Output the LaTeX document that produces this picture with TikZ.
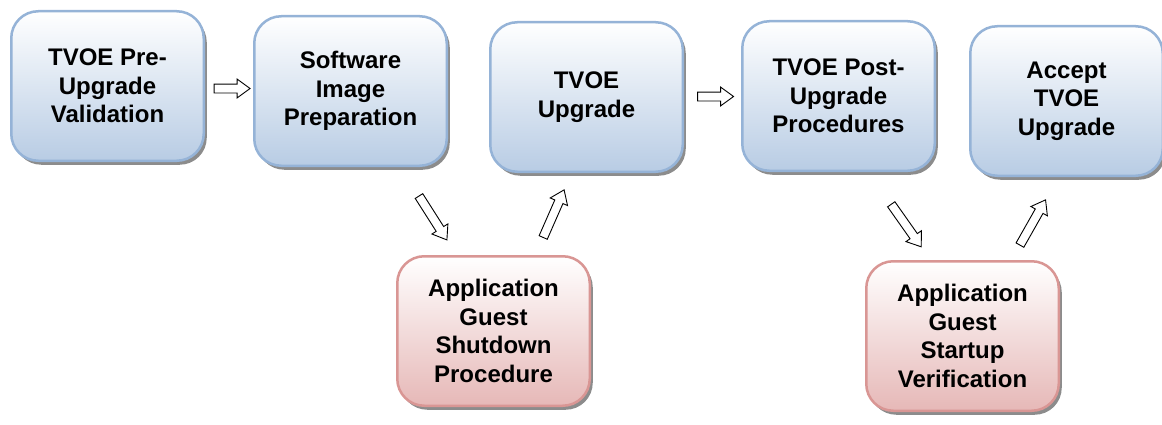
\documentclass[tikz,border=0pt]{standalone}
\usepackage{fontspec}
\setmainfont{Liberation Sans}
\usetikzlibrary{positioning, shapes.arrows, shadows}

\definecolor{stepborder}{RGB}{149,179,215}
\definecolor{stepbottom}{RGB}{184,204,228}
\definecolor{guestborder}{RGB}{217,150,148}
\definecolor{guestbottom}{RGB}{230,184,183}

\begin{document}
\begin{tikzpicture}[x=1pt,y=1pt,
 step node/.style={rectangle,rounded corners=27pt,line width=2.5pt,
   minimum width=192.5pt,minimum height=149.5pt,align=center,
   font=\bfseries\fontsize{24}{28.5}\selectfont,
   drop shadow={shadow xshift=3pt,shadow yshift=-4pt,fill=black!60,opacity=.75}},
 main node/.style={step node,draw=stepborder,top color=white,bottom color=stepbottom},
 guest node/.style={step node,draw=guestborder,top color=white,bottom color=guestbottom},
 block arrow/.style={single arrow,draw,fill=white,line width=.9pt,inner sep=4pt,
   single arrow head extend=5pt,single arrow tip angle=72,minimum height=36pt}]
  \useasboundingbox (0,0) rectangle (1162,424);

  \node[main node] (pre) at (107.5,338) {TVOE Pre-\\Upgrade\\Validation};
  \node[main node] (img) [right=48pt of pre, yshift=-5pt] {Software\\Image\\Preparation};
  \node[main node] (upg) [right=41pt of img, yshift=-6pt] {TVOE\\Upgrade};
  \node[main node] (post) [right=57pt of upg, yshift=1pt] {TVOE Post-\\Upgrade\\Procedures};
  \node[main node] (accept) [right=33pt of post, yshift=-5pt] {Accept\\TVOE\\Upgrade};
  \node[guest node] (shut) [below=82pt of upg, xshift=-93pt] {Application\\Guest\\Shutdown\\Procedure};
  \node[guest node] (start) [below=83pt of accept, xshift=-104pt] {Application\\Guest\\Startup\\Verification};

 \foreach \s/\t in {pre/img, upg/post} {
   \path (\s) -- node[block arrow] {} (\t);}

 \path[block arrow/.append style={sloped,minimum height=52pt}]
	([xshift=50pt]img.south) -- node[block arrow,pos=.55] {} ([xshift=-37pt]shut.north)
	([xshift=42pt]shut.north) -- node[block arrow,pos=.47] {} ([xshift=-15pt]upg.south)
	([xshift=30pt]post.south) -- node[block arrow,pos=.58] {} ([xshift=-32pt]start.north)
	([xshift=49pt]start.north) -- node[block arrow,pos=.42] {} ([xshift=-8pt]accept.south);
\end{tikzpicture}
\end{document}
